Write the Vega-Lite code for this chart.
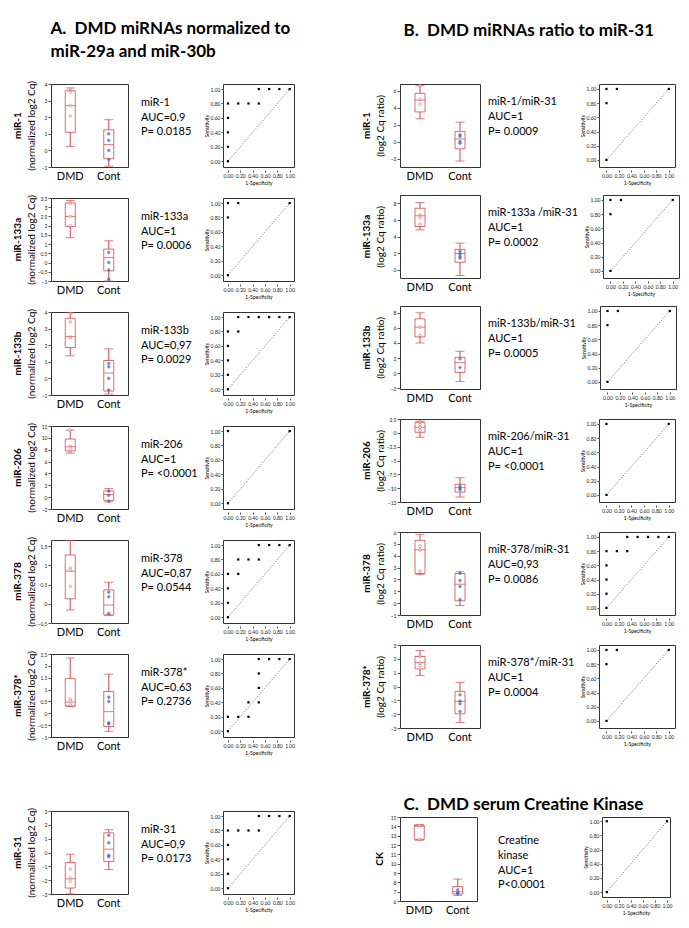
{
"$schema":"https://vega.github.io/schema/vega-lite/v6.json",
"padding":{"left":12,"top":20,"right":5,"bottom":5},
"background":"white",
"config":{
 "font":"Lato",
 "view":{"stroke":"#333","strokeWidth":1},
 "title":{"fontSize":10,"fontWeight":"bold","offset":3,"color":"#000"},
 "axis":{"labelFontSize":5,"titleFontSize":5,"titleFontWeight":"normal","tickSize":2,"labelPadding":1,"titlePadding":2,"domain":false,"grid":false,"labelColor":"#222","titleColor":"#000","tickColor":"#555","labelOverlap":false,"labelBound":false,"labelSeparation":0},
 "axisY":{"minExtent":12,"maxExtent":12}
},
"datasets":{
 "box":[
  {"id":"A1","g":"DMD","min":0.24,"q1":1.09,"med":2.7,"q3":3.59,"max":3.76},{"id":"A1","g":"Cont","min":-0.95,"q1":-0.5,"med":0.35,"q3":1.24,"max":1.85},
  {"id":"A2","g":"DMD","min":1.35,"q1":1.95,"med":2.5,"q3":3.23,"max":3.37},{"id":"A2","g":"Cont","min":-1,"q1":-0.45,"med":0.27,"q3":0.73,"max":1.18},
  {"id":"A3","g":"DMD","min":1.36,"q1":1.86,"med":2.52,"q3":3.62,"max":3.96},{"id":"A3","g":"Cont","min":-0.94,"q1":-0.76,"med":0.32,"q3":1.08,"max":1.78},
  {"id":"A4","g":"DMD","min":7.45,"q1":7.8,"med":8.5,"q3":9.8,"max":11.3},{"id":"A4","g":"Cont","min":-0.8,"q1":-0.55,"med":0.45,"q3":1.05,"max":1.45},
  {"id":"A5","g":"DMD","min":-0.16,"q1":0.13,"med":0.85,"q3":1.27,"max":1.65},{"id":"A5","g":"Cont","min":-0.3,"q1":-0.29,"med":-0.03,"q3":0.36,"max":0.56},
  {"id":"A6","g":"DMD","min":0.28,"q1":0.31,"med":0.47,"q3":1.47,"max":2.33},{"id":"A6","g":"Cont","min":-0.76,"q1":-0.56,"med":0.07,"q3":0.92,"max":1.65},
  {"id":"A7","g":"DMD","min":-3,"q1":-2.57,"med":-1.9,"q3":-0.72,"max":-0.12},{"id":"A7","g":"Cont","min":-1.23,"q1":-0.65,"med":0.24,"q3":1.42,"max":1.65},
  {"id":"B1","g":"DMD","min":2.7,"q1":3.5,"med":4.9,"q3":5.7,"max":6.6},{"id":"B1","g":"Cont","min":-2.3,"q1":-0.85,"med":0.3,"q3":1.2,"max":2.3},
  {"id":"B2","g":"DMD","min":4.8,"q1":5.2,"med":6.5,"q3":7.4,"max":8.1},{"id":"B2","g":"Cont","min":-0.7,"q1":0.9,"med":1.95,"q3":2.45,"max":3.2},
  {"id":"B3","g":"DMD","min":4.0,"q1":4.8,"med":6.1,"q3":7.2,"max":8.0},{"id":"B3","g":"Cont","min":-1.1,"q1":0.1,"med":1.4,"q3":2.1,"max":2.9},
  {"id":"B4","g":"DMD","min":-0.8,"q1":0.1,"med":1.0,"q3":1.9,"max":2.1},{"id":"B4","g":"Cont","min":-11.6,"q1":-10.7,"med":-9.9,"q3":-9.3,"max":-8.1},
  {"id":"B5","g":"DMD","min":2.4,"q1":2.5,"med":4.5,"q3":5.3,"max":5.8},{"id":"B5","g":"Cont","min":-0.2,"q1":0.2,"med":1.6,"q3":2.5,"max":2.65},
  {"id":"B6","g":"DMD","min":0.8,"q1":1.27,"med":1.73,"q3":2.17,"max":2.6},{"id":"B6","g":"Cont","min":-2.6,"q1":-1.97,"med":-1.08,"q3":-0.35,"max":0.3},
  {"id":"C1","g":"DMD","min":12.5,"q1":12.6,"med":14.0,"q3":14.1,"max":14.2},{"id":"C1","g":"Cont","min":6.6,"q1":6.75,"med":7.0,"q3":7.55,"max":8.35}
 ],
 "pts":[
  {"id":"A1","g":"DMD","v":3.7},{"id":"A1","g":"DMD","v":3.5},{"id":"A1","g":"DMD","v":2.7},{"id":"A1","g":"DMD","v":2.07},
  {"id":"A1","g":"Cont","v":1.0},{"id":"A1","g":"Cont","v":0.6},{"id":"A1","g":"Cont","v":0.0},{"id":"A1","g":"Cont","v":-0.55},
  {"id":"A2","g":"DMD","v":3.3},{"id":"A2","g":"DMD","v":3.2},{"id":"A2","g":"DMD","v":2.5},{"id":"A2","g":"DMD","v":2.0},
  {"id":"A2","g":"Cont","v":0.55},{"id":"A2","g":"Cont","v":0.0},{"id":"A2","g":"Cont","v":-0.4},{"id":"A2","g":"Cont","v":-0.9},
  {"id":"A3","g":"DMD","v":3.9},{"id":"A3","g":"DMD","v":3.4},{"id":"A3","g":"DMD","v":2.5},{"id":"A3","g":"DMD","v":2.45},
  {"id":"A3","g":"Cont","v":0.9},{"id":"A3","g":"Cont","v":0.7},{"id":"A3","g":"Cont","v":0.0},{"id":"A3","g":"Cont","v":-0.7},
  {"id":"A4","g":"DMD","v":11.3},{"id":"A4","g":"DMD","v":8.6},{"id":"A4","g":"DMD","v":8.3},{"id":"A4","g":"DMD","v":7.6},
  {"id":"A4","g":"Cont","v":1.0},{"id":"A4","g":"Cont","v":0.3},{"id":"A4","g":"Cont","v":-0.7},
  {"id":"A5","g":"DMD","v":0.93},{"id":"A5","g":"DMD","v":0.87},{"id":"A5","g":"DMD","v":0.45},
  {"id":"A5","g":"Cont","v":0.3},{"id":"A5","g":"Cont","v":0.18},{"id":"A5","g":"Cont","v":-0.25},
  {"id":"A6","g":"DMD","v":0.6},{"id":"A6","g":"DMD","v":0.5},{"id":"A6","g":"DMD","v":0.35},
  {"id":"A6","g":"Cont","v":0.68},{"id":"A6","g":"Cont","v":0.5},{"id":"A6","g":"Cont","v":-0.4},{"id":"A6","g":"Cont","v":-0.45},
  {"id":"A7","g":"DMD","v":-1.2},{"id":"A7","g":"DMD","v":-1.85},{"id":"A7","g":"DMD","v":-2.1},
  {"id":"A7","g":"Cont","v":1.25},{"id":"A7","g":"Cont","v":0.7},{"id":"A7","g":"Cont","v":-0.2},{"id":"A7","g":"Cont","v":-0.3},
  {"id":"B1","g":"DMD","v":6.6},{"id":"B1","g":"DMD","v":5.0},{"id":"B1","g":"DMD","v":4.4},
  {"id":"B1","g":"Cont","v":0.8},{"id":"B1","g":"Cont","v":0.6},{"id":"B1","g":"Cont","v":0.0},{"id":"B1","g":"Cont","v":-0.2},
  {"id":"B2","g":"DMD","v":6.6},{"id":"B2","g":"DMD","v":6.3},{"id":"B2","g":"DMD","v":5.5},
  {"id":"B2","g":"Cont","v":2.2},{"id":"B2","g":"Cont","v":1.9},{"id":"B2","g":"Cont","v":1.6},{"id":"B2","g":"Cont","v":1.4},
  {"id":"B3","g":"DMD","v":6.1},{"id":"B3","g":"DMD","v":5.0},
  {"id":"B3","g":"Cont","v":1.9},{"id":"B3","g":"Cont","v":0.75},
  {"id":"B4","g":"DMD","v":2.0},{"id":"B4","g":"DMD","v":1.5},{"id":"B4","g":"DMD","v":1.0},{"id":"B4","g":"DMD","v":0.5},
  {"id":"B4","g":"Cont","v":-9.6},{"id":"B4","g":"Cont","v":-10.0},{"id":"B4","g":"Cont","v":-10.3},
  {"id":"B5","g":"DMD","v":4.8},{"id":"B5","g":"DMD","v":4.5},{"id":"B5","g":"DMD","v":2.7},
  {"id":"B5","g":"Cont","v":2.5},{"id":"B5","g":"Cont","v":1.9},{"id":"B5","g":"Cont","v":1.4},{"id":"B5","g":"Cont","v":0.3},
  {"id":"B6","g":"DMD","v":2.2},{"id":"B6","g":"DMD","v":1.7},{"id":"B6","g":"DMD","v":1.5},
  {"id":"B6","g":"Cont","v":-0.6},{"id":"B6","g":"Cont","v":-1.05},{"id":"B6","g":"Cont","v":-1.25},{"id":"B6","g":"Cont","v":-1.8},
  {"id":"C1","g":"DMD","v":14.1},{"id":"C1","g":"DMD","v":12.6},
  {"id":"C1","g":"Cont","v":7.2},{"id":"C1","g":"Cont","v":6.9},{"id":"C1","g":"Cont","v":6.8}
 ],
 "roc":[
  {"id":"A1","fpr":0,"tpr":0},{"id":"A1","fpr":0,"tpr":0.2},{"id":"A1","fpr":0,"tpr":0.4},{"id":"A1","fpr":0,"tpr":0.6},{"id":"A1","fpr":0,"tpr":0.8},{"id":"A1","fpr":0.167,"tpr":0.8},{"id":"A1","fpr":0.333,"tpr":0.8},{"id":"A1","fpr":0.5,"tpr":0.8},{"id":"A1","fpr":0.5,"tpr":1},{"id":"A1","fpr":0.667,"tpr":1},{"id":"A1","fpr":0.833,"tpr":1},{"id":"A1","fpr":1,"tpr":1},
  {"id":"A2","fpr":0,"tpr":0},{"id":"A2","fpr":0,"tpr":0.8},{"id":"A2","fpr":0,"tpr":1},{"id":"A2","fpr":0.167,"tpr":1},{"id":"A2","fpr":1,"tpr":1},
  {"id":"A3","fpr":0,"tpr":0},{"id":"A3","fpr":0,"tpr":0.2},{"id":"A3","fpr":0,"tpr":0.4},{"id":"A3","fpr":0,"tpr":0.6},{"id":"A3","fpr":0,"tpr":0.8},{"id":"A3","fpr":0.167,"tpr":0.8},{"id":"A3","fpr":0.167,"tpr":1},{"id":"A3","fpr":0.333,"tpr":1},{"id":"A3","fpr":0.5,"tpr":1},{"id":"A3","fpr":0.667,"tpr":1},{"id":"A3","fpr":0.833,"tpr":1},{"id":"A3","fpr":1,"tpr":1},
  {"id":"A4","fpr":0,"tpr":0},{"id":"A4","fpr":0,"tpr":1},{"id":"A4","fpr":1,"tpr":1},
  {"id":"A5","fpr":0,"tpr":0},{"id":"A5","fpr":0,"tpr":0.2},{"id":"A5","fpr":0,"tpr":0.4},{"id":"A5","fpr":0,"tpr":0.6},{"id":"A5","fpr":0.167,"tpr":0.6},{"id":"A5","fpr":0.167,"tpr":0.8},{"id":"A5","fpr":0.333,"tpr":0.8},{"id":"A5","fpr":0.5,"tpr":0.8},{"id":"A5","fpr":0.5,"tpr":1},{"id":"A5","fpr":0.667,"tpr":1},{"id":"A5","fpr":0.833,"tpr":1},{"id":"A5","fpr":1,"tpr":1},
  {"id":"A6","fpr":0,"tpr":0},{"id":"A6","fpr":0,"tpr":0.2},{"id":"A6","fpr":0.167,"tpr":0.2},{"id":"A6","fpr":0.333,"tpr":0.2},{"id":"A6","fpr":0.333,"tpr":0.4},{"id":"A6","fpr":0.5,"tpr":0.4},{"id":"A6","fpr":0.5,"tpr":0.6},{"id":"A6","fpr":0.5,"tpr":0.8},{"id":"A6","fpr":0.5,"tpr":1},{"id":"A6","fpr":0.667,"tpr":1},{"id":"A6","fpr":0.833,"tpr":1},{"id":"A6","fpr":1,"tpr":1},
  {"id":"A7","fpr":0,"tpr":0},{"id":"A7","fpr":0,"tpr":0.2},{"id":"A7","fpr":0,"tpr":0.4},{"id":"A7","fpr":0,"tpr":0.6},{"id":"A7","fpr":0,"tpr":0.8},{"id":"A7","fpr":0.167,"tpr":0.8},{"id":"A7","fpr":0.333,"tpr":0.8},{"id":"A7","fpr":0.5,"tpr":0.8},{"id":"A7","fpr":0.5,"tpr":1},{"id":"A7","fpr":0.667,"tpr":1},{"id":"A7","fpr":0.833,"tpr":1},{"id":"A7","fpr":1,"tpr":1},
  {"id":"B1","fpr":0,"tpr":0},{"id":"B1","fpr":0,"tpr":0.8},{"id":"B1","fpr":0,"tpr":1},{"id":"B1","fpr":0.167,"tpr":1},{"id":"B1","fpr":1,"tpr":1},
  {"id":"B2","fpr":0,"tpr":0},{"id":"B2","fpr":0,"tpr":0.8},{"id":"B2","fpr":0,"tpr":1},{"id":"B2","fpr":0.167,"tpr":1},{"id":"B2","fpr":1,"tpr":1},
  {"id":"B3","fpr":0,"tpr":0},{"id":"B3","fpr":0,"tpr":0.8},{"id":"B3","fpr":0,"tpr":1},{"id":"B3","fpr":0.167,"tpr":1},{"id":"B3","fpr":1,"tpr":1},
  {"id":"B4","fpr":0,"tpr":0},{"id":"B4","fpr":0,"tpr":1},{"id":"B4","fpr":1,"tpr":1},
  {"id":"B5","fpr":0,"tpr":0},{"id":"B5","fpr":0,"tpr":0.2},{"id":"B5","fpr":0,"tpr":0.4},{"id":"B5","fpr":0,"tpr":0.6},{"id":"B5","fpr":0,"tpr":0.8},{"id":"B5","fpr":0.167,"tpr":0.8},{"id":"B5","fpr":0.333,"tpr":0.8},{"id":"B5","fpr":0.333,"tpr":1},{"id":"B5","fpr":0.5,"tpr":1},{"id":"B5","fpr":0.667,"tpr":1},{"id":"B5","fpr":0.833,"tpr":1},{"id":"B5","fpr":1,"tpr":1},
  {"id":"B6","fpr":0,"tpr":0},{"id":"B6","fpr":0,"tpr":0.8},{"id":"B6","fpr":0,"tpr":1},{"id":"B6","fpr":0.167,"tpr":1},{"id":"B6","fpr":1,"tpr":1},
  {"id":"C1","fpr":0,"tpr":0},{"id":"C1","fpr":0,"tpr":1},{"id":"C1","fpr":1,"tpr":1}
 ],
 "txt":[
  {"id":"A1","t":"miR-1\nAUC=0.9\nP= 0.0185"},
  {"id":"A2","t":"miR-133a\nAUC=1\nP= 0.0006"},
  {"id":"A3","t":"miR-133b\nAUC=0,97\nP= 0.0029"},
  {"id":"A4","t":"miR-206\nAUC=1\nP= <0.0001"},
  {"id":"A5","t":"miR-378\nAUC=0,87\nP= 0.0544"},
  {"id":"A6","t":"miR-378*\nAUC=0,63\nP= 0.2736"},
  {"id":"A7","t":"miR-31\nAUC=0,9\nP= 0.0173"},
  {"id":"B1","t":"miR-1/miR-31\nAUC=1\nP= 0.0009"},
  {"id":"B2","t":"miR-133a /miR-31\nAUC=1\nP= 0.0002"},
  {"id":"B3","t":"miR-133b/miR-31\nAUC=1\nP= 0.0005"},
  {"id":"B4","t":"miR-206/miR-31\nAUC=1\nP= <0.0001"},
  {"id":"B5","t":"miR-378/miR-31\nAUC=0,93\nP= 0.0086"},
  {"id":"B6","t":"miR-378*/miR-31\nAUC=1\nP= 0.0004"},
  {"id":"C1","t":"Creatine\nkinase\nAUC=1\nP<0.0001"}
 ],
 "diag":[{"d":0},{"d":1}]
},
"spacing":65,
"hconcat":[
 {"title":{"text":["A.\u00a0 DMD miRNAs normalized to","miR-29a and miR-30b"],"orient":"top","anchor":"start","dx":38,"fontSize":17,"lineHeight":23,"offset":19},
  "spacing":51,
  "vconcat":[
   {"spacing":8,"vconcat":[
    {"spacing":4,"hconcat":[
     {"width":77,"height":83,"title":{"text":"miR-1","orient":"left"},"data":{"name":"box"},"transform":[{"filter":"datum.id=='A1'"}],
      "encoding":{"x":{"field":"g","type":"nominal","sort":["DMD","Cont"],"scale":{"paddingInner":0,"paddingOuter":0},"axis":{"title":null,"labelAngle":0,"labelFontSize":11,"ticks":false,"labelPadding":3,"labelColor":"#000"}},
       "y":{"field":"min","type":"quantitative","scale":{"domain":[-1,4],"nice":false,"zero":false},"axis":{"values":[-1,0,1,2,3,4],"format":"~g","title":"(normalized log2 Cq)","titleFontSize":10,"labelFontSize":5,"tickSize":3,"titlePadding":3,"labelOverlap":false}}},
      "layer":[
       {"mark":{"type":"rule","color":"#d24a4a"},"encoding":{"y2":{"field":"max"}}},
       {"mark":{"type":"bar","fill":"#ffffff","stroke":"#d24a4a","strokeWidth":0.8,"width":10},"encoding":{"y":{"field":"q1","type":"quantitative"},"y2":{"field":"q3"}}},
       {"mark":{"type":"tick","color":"#d24a4a","size":9}},
       {"mark":{"type":"tick","color":"#d24a4a","size":9},"encoding":{"y":{"field":"max","type":"quantitative"}}},
       {"mark":{"type":"tick","color":"#d24a4a","size":10},"encoding":{"y":{"field":"med","type":"quantitative"}}},
       {"data":{"name":"pts"},"transform":[{"filter":"datum.id=='A1'"}],"mark":{"type":"point","size":7,"strokeWidth":0.7},"encoding":{"y":{"field":"v","type":"quantitative"},"color":{"field":"g","type":"nominal","scale":{"domain":["DMD","Cont"],"range":["#d24a4a","#3b5bc4"]},"legend":null},"fill":{"field":"g","type":"nominal","scale":{"domain":["DMD","Cont"],"range":["#ffffff","#3b5bc4"]},"legend":null}}}
      ]},
     {"width":66,"height":83,"view":{"stroke":null},"data":{"name":"txt"},"transform":[{"filter":"datum.id=='A1'"}],"mark":{"type":"text","align":"left","baseline":"middle","lineBreak":"\n","fontSize":11,"lineHeight":14.7,"dx":8},
      "encoding":{"text":{"field":"t"},"x":{"datum":0,"type":"quantitative","scale":{"domain":[0,1]},"axis":null},"y":{"datum":0.77,"type":"quantitative","scale":{"domain":[0,1]},"axis":null}}},
     {"width":71,"height":83,"layer":[
       {"data":{"name":"diag"},"mark":{"type":"line","color":"#444","strokeDash":[1.2,1.6],"strokeWidth":0.7},"encoding":{"x":{"field":"d","type":"quantitative","scale":{"domain":[-0.08,1.07],"nice":false,"zero":false},"axis":{"values":[0,0.2,0.4,0.6,0.8,1],"format":".2f","title":"1-Specificity","offset":3,"labelOverlap":false,"labelFlush":false}},"y":{"field":"d","type":"quantitative","scale":{"domain":[-0.08,1.07],"nice":false,"zero":false},"axis":{"values":[0,0.2,0.4,0.6,0.8,1],"format":".2f","title":"Sensitivity","labelOverlap":false}}}},
       {"data":{"name":"roc"},"transform":[{"filter":"datum.id=='A1'"}],"mark":{"type":"square","size":5,"color":"#000","opacity":1},"encoding":{"x":{"field":"fpr","type":"quantitative","axis":{"values":[0,0.2,0.4,0.6,0.8,1],"format":".2f","title":"1-Specificity","offset":3,"labelOverlap":false,"labelFlush":false}},"y":{"field":"tpr","type":"quantitative","axis":{"values":[0,0.2,0.4,0.6,0.8,1],"format":".2f","title":"Sensitivity","labelOverlap":false}}}}
     ]}
    ]},
    {"spacing":4,"hconcat":[
     {"width":77,"height":83,"title":{"text":"miR-133a","orient":"left"},"data":{"name":"box"},"transform":[{"filter":"datum.id=='A2'"}],
      "encoding":{"x":{"field":"g","type":"nominal","sort":["DMD","Cont"],"scale":{"paddingInner":0,"paddingOuter":0},"axis":{"title":null,"labelAngle":0,"labelFontSize":11,"ticks":false,"labelPadding":3,"labelColor":"#000"}},
       "y":{"field":"min","type":"quantitative","scale":{"domain":[-1,3.5],"nice":false,"zero":false},"axis":{"values":[-1,-0.5,0,0.5,1,1.5,2,2.5,3,3.5],"format":"~g","title":"(normalized log2 Cq)","titleFontSize":10,"labelFontSize":5,"tickSize":3,"titlePadding":3,"labelOverlap":false}}},
      "layer":[
       {"mark":{"type":"rule","color":"#d24a4a"},"encoding":{"y2":{"field":"max"}}},
       {"mark":{"type":"bar","fill":"#ffffff","stroke":"#d24a4a","strokeWidth":0.8,"width":10},"encoding":{"y":{"field":"q1","type":"quantitative"},"y2":{"field":"q3"}}},
       {"mark":{"type":"tick","color":"#d24a4a","size":9}},
       {"mark":{"type":"tick","color":"#d24a4a","size":9},"encoding":{"y":{"field":"max","type":"quantitative"}}},
       {"mark":{"type":"tick","color":"#d24a4a","size":10},"encoding":{"y":{"field":"med","type":"quantitative"}}},
       {"data":{"name":"pts"},"transform":[{"filter":"datum.id=='A2'"}],"mark":{"type":"point","size":7,"strokeWidth":0.7},"encoding":{"y":{"field":"v","type":"quantitative"},"color":{"field":"g","type":"nominal","scale":{"domain":["DMD","Cont"],"range":["#d24a4a","#3b5bc4"]},"legend":null},"fill":{"field":"g","type":"nominal","scale":{"domain":["DMD","Cont"],"range":["#ffffff","#3b5bc4"]},"legend":null}}}
      ]},
     {"width":66,"height":83,"view":{"stroke":null},"data":{"name":"txt"},"transform":[{"filter":"datum.id=='A2'"}],"mark":{"type":"text","align":"left","baseline":"middle","lineBreak":"\n","fontSize":11,"lineHeight":14.7,"dx":8},
      "encoding":{"text":{"field":"t"},"x":{"datum":0,"type":"quantitative","scale":{"domain":[0,1]},"axis":null},"y":{"datum":0.77,"type":"quantitative","scale":{"domain":[0,1]},"axis":null}}},
     {"width":71,"height":83,"layer":[
       {"data":{"name":"diag"},"mark":{"type":"line","color":"#444","strokeDash":[1.2,1.6],"strokeWidth":0.7},"encoding":{"x":{"field":"d","type":"quantitative","scale":{"domain":[-0.08,1.07],"nice":false,"zero":false},"axis":{"values":[0,0.2,0.4,0.6,0.8,1],"format":".2f","title":"1-Specificity","offset":3,"labelOverlap":false,"labelFlush":false}},"y":{"field":"d","type":"quantitative","scale":{"domain":[-0.08,1.07],"nice":false,"zero":false},"axis":{"values":[0,0.2,0.4,0.6,0.8,1],"format":".2f","title":"Sensitivity","labelOverlap":false}}}},
       {"data":{"name":"roc"},"transform":[{"filter":"datum.id=='A2'"}],"mark":{"type":"square","size":5,"color":"#000","opacity":1},"encoding":{"x":{"field":"fpr","type":"quantitative","axis":{"values":[0,0.2,0.4,0.6,0.8,1],"format":".2f","title":"1-Specificity","offset":3,"labelOverlap":false,"labelFlush":false}},"y":{"field":"tpr","type":"quantitative","axis":{"values":[0,0.2,0.4,0.6,0.8,1],"format":".2f","title":"Sensitivity","labelOverlap":false}}}}
     ]}
    ]},
    {"spacing":4,"hconcat":[
     {"width":77,"height":83,"title":{"text":"miR-133b","orient":"left"},"data":{"name":"box"},"transform":[{"filter":"datum.id=='A3'"}],
      "encoding":{"x":{"field":"g","type":"nominal","sort":["DMD","Cont"],"scale":{"paddingInner":0,"paddingOuter":0},"axis":{"title":null,"labelAngle":0,"labelFontSize":11,"ticks":false,"labelPadding":3,"labelColor":"#000"}},
       "y":{"field":"min","type":"quantitative","scale":{"domain":[-1,4],"nice":false,"zero":false},"axis":{"values":[-1,0,1,2,3,4],"format":"~g","title":"(normalized log2 Cq)","titleFontSize":10,"labelFontSize":5,"tickSize":3,"titlePadding":3,"labelOverlap":false}}},
      "layer":[
       {"mark":{"type":"rule","color":"#d24a4a"},"encoding":{"y2":{"field":"max"}}},
       {"mark":{"type":"bar","fill":"#ffffff","stroke":"#d24a4a","strokeWidth":0.8,"width":10},"encoding":{"y":{"field":"q1","type":"quantitative"},"y2":{"field":"q3"}}},
       {"mark":{"type":"tick","color":"#d24a4a","size":9}},
       {"mark":{"type":"tick","color":"#d24a4a","size":9},"encoding":{"y":{"field":"max","type":"quantitative"}}},
       {"mark":{"type":"tick","color":"#d24a4a","size":10},"encoding":{"y":{"field":"med","type":"quantitative"}}},
       {"data":{"name":"pts"},"transform":[{"filter":"datum.id=='A3'"}],"mark":{"type":"point","size":7,"strokeWidth":0.7},"encoding":{"y":{"field":"v","type":"quantitative"},"color":{"field":"g","type":"nominal","scale":{"domain":["DMD","Cont"],"range":["#d24a4a","#3b5bc4"]},"legend":null},"fill":{"field":"g","type":"nominal","scale":{"domain":["DMD","Cont"],"range":["#ffffff","#3b5bc4"]},"legend":null}}}
      ]},
     {"width":66,"height":83,"view":{"stroke":null},"data":{"name":"txt"},"transform":[{"filter":"datum.id=='A3'"}],"mark":{"type":"text","align":"left","baseline":"middle","lineBreak":"\n","fontSize":11,"lineHeight":14.7,"dx":8},
      "encoding":{"text":{"field":"t"},"x":{"datum":0,"type":"quantitative","scale":{"domain":[0,1]},"axis":null},"y":{"datum":0.77,"type":"quantitative","scale":{"domain":[0,1]},"axis":null}}},
     {"width":71,"height":83,"layer":[
       {"data":{"name":"diag"},"mark":{"type":"line","color":"#444","strokeDash":[1.2,1.6],"strokeWidth":0.7},"encoding":{"x":{"field":"d","type":"quantitative","scale":{"domain":[-0.08,1.07],"nice":false,"zero":false},"axis":{"values":[0,0.2,0.4,0.6,0.8,1],"format":".2f","title":"1-Specificity","offset":3,"labelOverlap":false,"labelFlush":false}},"y":{"field":"d","type":"quantitative","scale":{"domain":[-0.08,1.07],"nice":false,"zero":false},"axis":{"values":[0,0.2,0.4,0.6,0.8,1],"format":".2f","title":"Sensitivity","labelOverlap":false}}}},
       {"data":{"name":"roc"},"transform":[{"filter":"datum.id=='A3'"}],"mark":{"type":"square","size":5,"color":"#000","opacity":1},"encoding":{"x":{"field":"fpr","type":"quantitative","axis":{"values":[0,0.2,0.4,0.6,0.8,1],"format":".2f","title":"1-Specificity","offset":3,"labelOverlap":false,"labelFlush":false}},"y":{"field":"tpr","type":"quantitative","axis":{"values":[0,0.2,0.4,0.6,0.8,1],"format":".2f","title":"Sensitivity","labelOverlap":false}}}}
     ]}
    ]},
    {"spacing":4,"hconcat":[
     {"width":77,"height":83,"title":{"text":"miR-206","orient":"left"},"data":{"name":"box"},"transform":[{"filter":"datum.id=='A4'"}],
      "encoding":{"x":{"field":"g","type":"nominal","sort":["DMD","Cont"],"scale":{"paddingInner":0,"paddingOuter":0},"axis":{"title":null,"labelAngle":0,"labelFontSize":11,"ticks":false,"labelPadding":3,"labelColor":"#000"}},
       "y":{"field":"min","type":"quantitative","scale":{"domain":[-2,12],"nice":false,"zero":false},"axis":{"values":[-2,0,2,4,6,8,10,12],"format":"~g","title":"(normalized log2 Cq)","titleFontSize":10,"labelFontSize":5,"tickSize":3,"titlePadding":3,"labelOverlap":false}}},
      "layer":[
       {"mark":{"type":"rule","color":"#d24a4a"},"encoding":{"y2":{"field":"max"}}},
       {"mark":{"type":"bar","fill":"#ffffff","stroke":"#d24a4a","strokeWidth":0.8,"width":10},"encoding":{"y":{"field":"q1","type":"quantitative"},"y2":{"field":"q3"}}},
       {"mark":{"type":"tick","color":"#d24a4a","size":9}},
       {"mark":{"type":"tick","color":"#d24a4a","size":9},"encoding":{"y":{"field":"max","type":"quantitative"}}},
       {"mark":{"type":"tick","color":"#d24a4a","size":10},"encoding":{"y":{"field":"med","type":"quantitative"}}},
       {"data":{"name":"pts"},"transform":[{"filter":"datum.id=='A4'"}],"mark":{"type":"point","size":7,"strokeWidth":0.7},"encoding":{"y":{"field":"v","type":"quantitative"},"color":{"field":"g","type":"nominal","scale":{"domain":["DMD","Cont"],"range":["#d24a4a","#3b5bc4"]},"legend":null},"fill":{"field":"g","type":"nominal","scale":{"domain":["DMD","Cont"],"range":["#ffffff","#3b5bc4"]},"legend":null}}}
      ]},
     {"width":66,"height":83,"view":{"stroke":null},"data":{"name":"txt"},"transform":[{"filter":"datum.id=='A4'"}],"mark":{"type":"text","align":"left","baseline":"middle","lineBreak":"\n","fontSize":11,"lineHeight":14.7,"dx":8},
      "encoding":{"text":{"field":"t"},"x":{"datum":0,"type":"quantitative","scale":{"domain":[0,1]},"axis":null},"y":{"datum":0.77,"type":"quantitative","scale":{"domain":[0,1]},"axis":null}}},
     {"width":71,"height":83,"layer":[
       {"data":{"name":"diag"},"mark":{"type":"line","color":"#444","strokeDash":[1.2,1.6],"strokeWidth":0.7},"encoding":{"x":{"field":"d","type":"quantitative","scale":{"domain":[-0.08,1.07],"nice":false,"zero":false},"axis":{"values":[0,0.2,0.4,0.6,0.8,1],"format":".2f","title":"1-Specificity","offset":3,"labelOverlap":false,"labelFlush":false}},"y":{"field":"d","type":"quantitative","scale":{"domain":[-0.08,1.07],"nice":false,"zero":false},"axis":{"values":[0,0.2,0.4,0.6,0.8,1],"format":".2f","title":"Sensitivity","labelOverlap":false}}}},
       {"data":{"name":"roc"},"transform":[{"filter":"datum.id=='A4'"}],"mark":{"type":"square","size":5,"color":"#000","opacity":1},"encoding":{"x":{"field":"fpr","type":"quantitative","axis":{"values":[0,0.2,0.4,0.6,0.8,1],"format":".2f","title":"1-Specificity","offset":3,"labelOverlap":false,"labelFlush":false}},"y":{"field":"tpr","type":"quantitative","axis":{"values":[0,0.2,0.4,0.6,0.8,1],"format":".2f","title":"Sensitivity","labelOverlap":false}}}}
     ]}
    ]},
    {"spacing":4,"hconcat":[
     {"width":77,"height":83,"title":{"text":"miR-378","orient":"left"},"data":{"name":"box"},"transform":[{"filter":"datum.id=='A5'"}],
      "encoding":{"x":{"field":"g","type":"nominal","sort":["DMD","Cont"],"scale":{"paddingInner":0,"paddingOuter":0},"axis":{"title":null,"labelAngle":0,"labelFontSize":11,"ticks":false,"labelPadding":3,"labelColor":"#000"}},
       "y":{"field":"min","type":"quantitative","scale":{"domain":[-0.5,1.66],"nice":false,"zero":false},"axis":{"values":[-0.5,0,0.5,1,1.5],"format":"~g","title":"(normalized log2 Cq)","titleFontSize":10,"labelFontSize":5,"tickSize":3,"titlePadding":3,"labelOverlap":false}}},
      "layer":[
       {"mark":{"type":"rule","color":"#d24a4a"},"encoding":{"y2":{"field":"max"}}},
       {"mark":{"type":"bar","fill":"#ffffff","stroke":"#d24a4a","strokeWidth":0.8,"width":10},"encoding":{"y":{"field":"q1","type":"quantitative"},"y2":{"field":"q3"}}},
       {"mark":{"type":"tick","color":"#d24a4a","size":9}},
       {"mark":{"type":"tick","color":"#d24a4a","size":9},"encoding":{"y":{"field":"max","type":"quantitative"}}},
       {"mark":{"type":"tick","color":"#d24a4a","size":10},"encoding":{"y":{"field":"med","type":"quantitative"}}},
       {"data":{"name":"pts"},"transform":[{"filter":"datum.id=='A5'"}],"mark":{"type":"point","size":7,"strokeWidth":0.7},"encoding":{"y":{"field":"v","type":"quantitative"},"color":{"field":"g","type":"nominal","scale":{"domain":["DMD","Cont"],"range":["#d24a4a","#3b5bc4"]},"legend":null},"fill":{"field":"g","type":"nominal","scale":{"domain":["DMD","Cont"],"range":["#ffffff","#3b5bc4"]},"legend":null}}}
      ]},
     {"width":66,"height":83,"view":{"stroke":null},"data":{"name":"txt"},"transform":[{"filter":"datum.id=='A5'"}],"mark":{"type":"text","align":"left","baseline":"middle","lineBreak":"\n","fontSize":11,"lineHeight":14.7,"dx":8},
      "encoding":{"text":{"field":"t"},"x":{"datum":0,"type":"quantitative","scale":{"domain":[0,1]},"axis":null},"y":{"datum":0.77,"type":"quantitative","scale":{"domain":[0,1]},"axis":null}}},
     {"width":71,"height":83,"layer":[
       {"data":{"name":"diag"},"mark":{"type":"line","color":"#444","strokeDash":[1.2,1.6],"strokeWidth":0.7},"encoding":{"x":{"field":"d","type":"quantitative","scale":{"domain":[-0.08,1.07],"nice":false,"zero":false},"axis":{"values":[0,0.2,0.4,0.6,0.8,1],"format":".2f","title":"1-Specificity","offset":3,"labelOverlap":false,"labelFlush":false}},"y":{"field":"d","type":"quantitative","scale":{"domain":[-0.08,1.07],"nice":false,"zero":false},"axis":{"values":[0,0.2,0.4,0.6,0.8,1],"format":".2f","title":"Sensitivity","labelOverlap":false}}}},
       {"data":{"name":"roc"},"transform":[{"filter":"datum.id=='A5'"}],"mark":{"type":"square","size":5,"color":"#000","opacity":1},"encoding":{"x":{"field":"fpr","type":"quantitative","axis":{"values":[0,0.2,0.4,0.6,0.8,1],"format":".2f","title":"1-Specificity","offset":3,"labelOverlap":false,"labelFlush":false}},"y":{"field":"tpr","type":"quantitative","axis":{"values":[0,0.2,0.4,0.6,0.8,1],"format":".2f","title":"Sensitivity","labelOverlap":false}}}}
     ]}
    ]},
    {"spacing":4,"hconcat":[
     {"width":77,"height":83,"title":{"text":"miR-378*","orient":"left"},"data":{"name":"box"},"transform":[{"filter":"datum.id=='A6'"}],
      "encoding":{"x":{"field":"g","type":"nominal","sort":["DMD","Cont"],"scale":{"paddingInner":0,"paddingOuter":0},"axis":{"title":null,"labelAngle":0,"labelFontSize":11,"ticks":false,"labelPadding":3,"labelColor":"#000"}},
       "y":{"field":"min","type":"quantitative","scale":{"domain":[-1,2.5],"nice":false,"zero":false},"axis":{"values":[-1,-0.5,0,0.5,1,1.5,2,2.5],"format":"~g","title":"(normalized log2 Cq)","titleFontSize":10,"labelFontSize":5,"tickSize":3,"titlePadding":3,"labelOverlap":false}}},
      "layer":[
       {"mark":{"type":"rule","color":"#d24a4a"},"encoding":{"y2":{"field":"max"}}},
       {"mark":{"type":"bar","fill":"#ffffff","stroke":"#d24a4a","strokeWidth":0.8,"width":10},"encoding":{"y":{"field":"q1","type":"quantitative"},"y2":{"field":"q3"}}},
       {"mark":{"type":"tick","color":"#d24a4a","size":9}},
       {"mark":{"type":"tick","color":"#d24a4a","size":9},"encoding":{"y":{"field":"max","type":"quantitative"}}},
       {"mark":{"type":"tick","color":"#d24a4a","size":10},"encoding":{"y":{"field":"med","type":"quantitative"}}},
       {"data":{"name":"pts"},"transform":[{"filter":"datum.id=='A6'"}],"mark":{"type":"point","size":7,"strokeWidth":0.7},"encoding":{"y":{"field":"v","type":"quantitative"},"color":{"field":"g","type":"nominal","scale":{"domain":["DMD","Cont"],"range":["#d24a4a","#3b5bc4"]},"legend":null},"fill":{"field":"g","type":"nominal","scale":{"domain":["DMD","Cont"],"range":["#ffffff","#3b5bc4"]},"legend":null}}}
      ]},
     {"width":66,"height":83,"view":{"stroke":null},"data":{"name":"txt"},"transform":[{"filter":"datum.id=='A6'"}],"mark":{"type":"text","align":"left","baseline":"middle","lineBreak":"\n","fontSize":11,"lineHeight":14.7,"dx":8},
      "encoding":{"text":{"field":"t"},"x":{"datum":0,"type":"quantitative","scale":{"domain":[0,1]},"axis":null},"y":{"datum":0.77,"type":"quantitative","scale":{"domain":[0,1]},"axis":null}}},
     {"width":71,"height":83,"layer":[
       {"data":{"name":"diag"},"mark":{"type":"line","color":"#444","strokeDash":[1.2,1.6],"strokeWidth":0.7},"encoding":{"x":{"field":"d","type":"quantitative","scale":{"domain":[-0.08,1.07],"nice":false,"zero":false},"axis":{"values":[0,0.2,0.4,0.6,0.8,1],"format":".2f","title":"1-Specificity","offset":3,"labelOverlap":false,"labelFlush":false}},"y":{"field":"d","type":"quantitative","scale":{"domain":[-0.08,1.07],"nice":false,"zero":false},"axis":{"values":[0,0.2,0.4,0.6,0.8,1],"format":".2f","title":"Sensitivity","labelOverlap":false}}}},
       {"data":{"name":"roc"},"transform":[{"filter":"datum.id=='A6'"}],"mark":{"type":"square","size":5,"color":"#000","opacity":1},"encoding":{"x":{"field":"fpr","type":"quantitative","axis":{"values":[0,0.2,0.4,0.6,0.8,1],"format":".2f","title":"1-Specificity","offset":3,"labelOverlap":false,"labelFlush":false}},"y":{"field":"tpr","type":"quantitative","axis":{"values":[0,0.2,0.4,0.6,0.8,1],"format":".2f","title":"Sensitivity","labelOverlap":false}}}}
     ]}
    ]}
   ]},
   {"spacing":4,"hconcat":[
     {"width":77,"height":83,"title":{"text":"miR-31","orient":"left"},"data":{"name":"box"},"transform":[{"filter":"datum.id=='A7'"}],
      "encoding":{"x":{"field":"g","type":"nominal","sort":["DMD","Cont"],"scale":{"paddingInner":0,"paddingOuter":0},"axis":{"title":null,"labelAngle":0,"labelFontSize":11,"ticks":false,"labelPadding":3,"labelColor":"#000"}},
       "y":{"field":"min","type":"quantitative","scale":{"domain":[-3,3],"nice":false,"zero":false},"axis":{"values":[-3,-2,-1,0,1,2,3],"format":"~g","title":"(normalized log2 Cq)","titleFontSize":10,"labelFontSize":5,"tickSize":3,"titlePadding":3,"labelOverlap":false}}},
      "layer":[
       {"mark":{"type":"rule","color":"#d24a4a"},"encoding":{"y2":{"field":"max"}}},
       {"mark":{"type":"bar","fill":"#ffffff","stroke":"#d24a4a","strokeWidth":0.8,"width":10},"encoding":{"y":{"field":"q1","type":"quantitative"},"y2":{"field":"q3"}}},
       {"mark":{"type":"tick","color":"#d24a4a","size":9}},
       {"mark":{"type":"tick","color":"#d24a4a","size":9},"encoding":{"y":{"field":"max","type":"quantitative"}}},
       {"mark":{"type":"tick","color":"#d24a4a","size":10},"encoding":{"y":{"field":"med","type":"quantitative"}}},
       {"data":{"name":"pts"},"transform":[{"filter":"datum.id=='A7'"}],"mark":{"type":"point","size":7,"strokeWidth":0.7},"encoding":{"y":{"field":"v","type":"quantitative"},"color":{"field":"g","type":"nominal","scale":{"domain":["DMD","Cont"],"range":["#d24a4a","#3b5bc4"]},"legend":null},"fill":{"field":"g","type":"nominal","scale":{"domain":["DMD","Cont"],"range":["#ffffff","#3b5bc4"]},"legend":null}}}
      ]},
     {"width":66,"height":83,"view":{"stroke":null},"data":{"name":"txt"},"transform":[{"filter":"datum.id=='A7'"}],"mark":{"type":"text","align":"left","baseline":"middle","lineBreak":"\n","fontSize":11,"lineHeight":14.7,"dx":8},
      "encoding":{"text":{"field":"t"},"x":{"datum":0,"type":"quantitative","scale":{"domain":[0,1]},"axis":null},"y":{"datum":0.77,"type":"quantitative","scale":{"domain":[0,1]},"axis":null}}},
     {"width":71,"height":83,"layer":[
       {"data":{"name":"diag"},"mark":{"type":"line","color":"#444","strokeDash":[1.2,1.6],"strokeWidth":0.7},"encoding":{"x":{"field":"d","type":"quantitative","scale":{"domain":[-0.08,1.07],"nice":false,"zero":false},"axis":{"values":[0,0.2,0.4,0.6,0.8,1],"format":".2f","title":"1-Specificity","offset":3,"labelOverlap":false,"labelFlush":false}},"y":{"field":"d","type":"quantitative","scale":{"domain":[-0.08,1.07],"nice":false,"zero":false},"axis":{"values":[0,0.2,0.4,0.6,0.8,1],"format":".2f","title":"Sensitivity","labelOverlap":false}}}},
       {"data":{"name":"roc"},"transform":[{"filter":"datum.id=='A7'"}],"mark":{"type":"square","size":5,"color":"#000","opacity":1},"encoding":{"x":{"field":"fpr","type":"quantitative","axis":{"values":[0,0.2,0.4,0.6,0.8,1],"format":".2f","title":"1-Specificity","offset":3,"labelOverlap":false,"labelFlush":false}},"y":{"field":"tpr","type":"quantitative","axis":{"values":[0,0.2,0.4,0.6,0.8,1],"format":".2f","title":"Sensitivity","labelOverlap":false}}}}
     ]}
   ]}
  ]},
 {"spacing":48,"vconcat":[
  {"title":{"text":"B.\u00a0 DMD miRNAs ratio to miR-31","orient":"top","anchor":"start","dx":42,"fontSize":17,"offset":42},
   "spacing":8,"vconcat":[
    {"spacing":4,"hconcat":[
     {"width":80,"height":83,"title":{"text":"miR-1","orient":"left"},"data":{"name":"box"},"transform":[{"filter":"datum.id=='B1'"}],
      "encoding":{"x":{"field":"g","type":"nominal","sort":["DMD","Cont"],"scale":{"paddingInner":0,"paddingOuter":0},"axis":{"title":null,"labelAngle":0,"labelFontSize":11,"ticks":false,"labelPadding":3,"labelColor":"#000"}},
       "y":{"field":"min","type":"quantitative","scale":{"domain":[-3,6.8],"nice":false,"zero":false},"axis":{"values":[-2,0,2,4,6],"format":"~g","title":"(log2 Cq ratio)","titleFontSize":10,"labelFontSize":5,"tickSize":3,"titlePadding":3,"labelOverlap":false}}},
      "layer":[
       {"mark":{"type":"rule","color":"#d24a4a"},"encoding":{"y2":{"field":"max"}}},
       {"mark":{"type":"bar","fill":"#ffffff","stroke":"#d24a4a","strokeWidth":0.8,"width":10},"encoding":{"y":{"field":"q1","type":"quantitative"},"y2":{"field":"q3"}}},
       {"mark":{"type":"tick","color":"#d24a4a","size":9}},
       {"mark":{"type":"tick","color":"#d24a4a","size":9},"encoding":{"y":{"field":"max","type":"quantitative"}}},
       {"mark":{"type":"tick","color":"#d24a4a","size":10},"encoding":{"y":{"field":"med","type":"quantitative"}}},
       {"data":{"name":"pts"},"transform":[{"filter":"datum.id=='B1'"}],"mark":{"type":"point","size":7,"strokeWidth":0.7},"encoding":{"y":{"field":"v","type":"quantitative"},"color":{"field":"g","type":"nominal","scale":{"domain":["DMD","Cont"],"range":["#d24a4a","#3b5bc4"]},"legend":null},"fill":{"field":"g","type":"nominal","scale":{"domain":["DMD","Cont"],"range":["#ffffff","#3b5bc4"]},"legend":null}}}
      ]},
     {"width":90,"height":83,"view":{"stroke":null},"data":{"name":"txt"},"transform":[{"filter":"datum.id=='B1'"}],"mark":{"type":"text","align":"left","baseline":"middle","lineBreak":"\n","fontSize":11,"lineHeight":14.7,"dx":3},
      "encoding":{"text":{"field":"t"},"x":{"datum":0,"type":"quantitative","scale":{"domain":[0,1]},"axis":null},"y":{"datum":0.78,"type":"quantitative","scale":{"domain":[0,1]},"axis":null}}},
     {"width":76,"height":83,"layer":[
       {"data":{"name":"diag"},"mark":{"type":"line","color":"#444","strokeDash":[1.2,1.6],"strokeWidth":0.7},"encoding":{"x":{"field":"d","type":"quantitative","scale":{"domain":[-0.12,1.1],"nice":false,"zero":false},"axis":{"values":[0,0.2,0.4,0.6,0.8,1],"format":".2f","title":"1-Specificity","offset":3,"labelOverlap":false,"labelFlush":false}},"y":{"field":"d","type":"quantitative","scale":{"domain":[-0.1,1.07],"nice":false,"zero":false},"axis":{"values":[0,0.2,0.4,0.6,0.8,1],"format":".2f","title":"Sensitivity","labelOverlap":false}}}},
       {"data":{"name":"roc"},"transform":[{"filter":"datum.id=='B1'"}],"mark":{"type":"square","size":5,"color":"#000","opacity":1},"encoding":{"x":{"field":"fpr","type":"quantitative","axis":{"values":[0,0.2,0.4,0.6,0.8,1],"format":".2f","title":"1-Specificity","offset":3,"labelOverlap":false,"labelFlush":false}},"y":{"field":"tpr","type":"quantitative","axis":{"values":[0,0.2,0.4,0.6,0.8,1],"format":".2f","title":"Sensitivity","labelOverlap":false}}}}
     ]}
    ]},
    {"spacing":4,"hconcat":[
     {"width":80,"height":83,"title":{"text":"miR-133a","orient":"left"},"data":{"name":"box"},"transform":[{"filter":"datum.id=='B2'"}],
      "encoding":{"x":{"field":"g","type":"nominal","sort":["DMD","Cont"],"scale":{"paddingInner":0,"paddingOuter":0},"axis":{"title":null,"labelAngle":0,"labelFontSize":11,"ticks":false,"labelPadding":3,"labelColor":"#000"}},
       "y":{"field":"min","type":"quantitative","scale":{"domain":[-1,9],"nice":false,"zero":false},"axis":{"values":[0,2,4,6,8],"format":"~g","title":"(log2 Cq ratio)","titleFontSize":10,"labelFontSize":5,"tickSize":3,"titlePadding":3,"labelOverlap":false}}},
      "layer":[
       {"mark":{"type":"rule","color":"#d24a4a"},"encoding":{"y2":{"field":"max"}}},
       {"mark":{"type":"bar","fill":"#ffffff","stroke":"#d24a4a","strokeWidth":0.8,"width":10},"encoding":{"y":{"field":"q1","type":"quantitative"},"y2":{"field":"q3"}}},
       {"mark":{"type":"tick","color":"#d24a4a","size":9}},
       {"mark":{"type":"tick","color":"#d24a4a","size":9},"encoding":{"y":{"field":"max","type":"quantitative"}}},
       {"mark":{"type":"tick","color":"#d24a4a","size":10},"encoding":{"y":{"field":"med","type":"quantitative"}}},
       {"data":{"name":"pts"},"transform":[{"filter":"datum.id=='B2'"}],"mark":{"type":"point","size":7,"strokeWidth":0.7},"encoding":{"y":{"field":"v","type":"quantitative"},"color":{"field":"g","type":"nominal","scale":{"domain":["DMD","Cont"],"range":["#d24a4a","#3b5bc4"]},"legend":null},"fill":{"field":"g","type":"nominal","scale":{"domain":["DMD","Cont"],"range":["#ffffff","#3b5bc4"]},"legend":null}}}
      ]},
     {"width":90,"height":83,"view":{"stroke":null},"data":{"name":"txt"},"transform":[{"filter":"datum.id=='B2'"}],"mark":{"type":"text","align":"left","baseline":"middle","lineBreak":"\n","fontSize":11,"lineHeight":14.7,"dx":3},
      "encoding":{"text":{"field":"t"},"x":{"datum":0,"type":"quantitative","scale":{"domain":[0,1]},"axis":null},"y":{"datum":0.78,"type":"quantitative","scale":{"domain":[0,1]},"axis":null}}},
     {"width":76,"height":83,"layer":[
       {"data":{"name":"diag"},"mark":{"type":"line","color":"#444","strokeDash":[1.2,1.6],"strokeWidth":0.7},"encoding":{"x":{"field":"d","type":"quantitative","scale":{"domain":[-0.12,1.1],"nice":false,"zero":false},"axis":{"values":[0,0.2,0.4,0.6,0.8,1],"format":".2f","title":"1-Specificity","offset":3,"labelOverlap":false,"labelFlush":false}},"y":{"field":"d","type":"quantitative","scale":{"domain":[-0.1,1.07],"nice":false,"zero":false},"axis":{"values":[0,0.2,0.4,0.6,0.8,1],"format":".2f","title":"Sensitivity","labelOverlap":false}}}},
       {"data":{"name":"roc"},"transform":[{"filter":"datum.id=='B2'"}],"mark":{"type":"square","size":5,"color":"#000","opacity":1},"encoding":{"x":{"field":"fpr","type":"quantitative","axis":{"values":[0,0.2,0.4,0.6,0.8,1],"format":".2f","title":"1-Specificity","offset":3,"labelOverlap":false,"labelFlush":false}},"y":{"field":"tpr","type":"quantitative","axis":{"values":[0,0.2,0.4,0.6,0.8,1],"format":".2f","title":"Sensitivity","labelOverlap":false}}}}
     ]}
    ]},
    {"spacing":4,"hconcat":[
     {"width":80,"height":83,"title":{"text":"miR-133b","orient":"left"},"data":{"name":"box"},"transform":[{"filter":"datum.id=='B3'"}],
      "encoding":{"x":{"field":"g","type":"nominal","sort":["DMD","Cont"],"scale":{"paddingInner":0,"paddingOuter":0},"axis":{"title":null,"labelAngle":0,"labelFontSize":11,"ticks":false,"labelPadding":3,"labelColor":"#000"}},
       "y":{"field":"min","type":"quantitative","scale":{"domain":[-2.1,8.9],"nice":false,"zero":false},"axis":{"values":[-2,0,2,4,6,8],"format":"~g","title":"(log2 Cq ratio)","titleFontSize":10,"labelFontSize":5,"tickSize":3,"titlePadding":3,"labelOverlap":false}}},
      "layer":[
       {"mark":{"type":"rule","color":"#d24a4a"},"encoding":{"y2":{"field":"max"}}},
       {"mark":{"type":"bar","fill":"#ffffff","stroke":"#d24a4a","strokeWidth":0.8,"width":10},"encoding":{"y":{"field":"q1","type":"quantitative"},"y2":{"field":"q3"}}},
       {"mark":{"type":"tick","color":"#d24a4a","size":9}},
       {"mark":{"type":"tick","color":"#d24a4a","size":9},"encoding":{"y":{"field":"max","type":"quantitative"}}},
       {"mark":{"type":"tick","color":"#d24a4a","size":10},"encoding":{"y":{"field":"med","type":"quantitative"}}},
       {"data":{"name":"pts"},"transform":[{"filter":"datum.id=='B3'"}],"mark":{"type":"point","size":7,"strokeWidth":0.7},"encoding":{"y":{"field":"v","type":"quantitative"},"color":{"field":"g","type":"nominal","scale":{"domain":["DMD","Cont"],"range":["#d24a4a","#3b5bc4"]},"legend":null},"fill":{"field":"g","type":"nominal","scale":{"domain":["DMD","Cont"],"range":["#ffffff","#3b5bc4"]},"legend":null}}}
      ]},
     {"width":90,"height":83,"view":{"stroke":null},"data":{"name":"txt"},"transform":[{"filter":"datum.id=='B3'"}],"mark":{"type":"text","align":"left","baseline":"middle","lineBreak":"\n","fontSize":11,"lineHeight":14.7,"dx":3},
      "encoding":{"text":{"field":"t"},"x":{"datum":0,"type":"quantitative","scale":{"domain":[0,1]},"axis":null},"y":{"datum":0.78,"type":"quantitative","scale":{"domain":[0,1]},"axis":null}}},
     {"width":76,"height":83,"layer":[
       {"data":{"name":"diag"},"mark":{"type":"line","color":"#444","strokeDash":[1.2,1.6],"strokeWidth":0.7},"encoding":{"x":{"field":"d","type":"quantitative","scale":{"domain":[-0.12,1.1],"nice":false,"zero":false},"axis":{"values":[0,0.2,0.4,0.6,0.8,1],"format":".2f","title":"1-Specificity","offset":3,"labelOverlap":false,"labelFlush":false}},"y":{"field":"d","type":"quantitative","scale":{"domain":[-0.1,1.07],"nice":false,"zero":false},"axis":{"values":[0,0.2,0.4,0.6,0.8,1],"format":".2f","title":"Sensitivity","labelOverlap":false}}}},
       {"data":{"name":"roc"},"transform":[{"filter":"datum.id=='B3'"}],"mark":{"type":"square","size":5,"color":"#000","opacity":1},"encoding":{"x":{"field":"fpr","type":"quantitative","axis":{"values":[0,0.2,0.4,0.6,0.8,1],"format":".2f","title":"1-Specificity","offset":3,"labelOverlap":false,"labelFlush":false}},"y":{"field":"tpr","type":"quantitative","axis":{"values":[0,0.2,0.4,0.6,0.8,1],"format":".2f","title":"Sensitivity","labelOverlap":false}}}}
     ]}
    ]},
    {"spacing":4,"hconcat":[
     {"width":80,"height":83,"title":{"text":"miR-206","orient":"left"},"data":{"name":"box"},"transform":[{"filter":"datum.id=='B4'"}],
      "encoding":{"x":{"field":"g","type":"nominal","sort":["DMD","Cont"],"scale":{"paddingInner":0,"paddingOuter":0},"axis":{"title":null,"labelAngle":0,"labelFontSize":11,"ticks":false,"labelPadding":3,"labelColor":"#000"}},
       "y":{"field":"min","type":"quantitative","scale":{"domain":[-12.5,2.5],"nice":false,"zero":false},"axis":{"values":[-12.5,-10,-7.5,-5,-2.5,0,2.5],"format":"~g","title":"(log2 Cq ratio)","titleFontSize":10,"labelFontSize":5,"tickSize":3,"titlePadding":3,"labelOverlap":false}}},
      "layer":[
       {"mark":{"type":"rule","color":"#d24a4a"},"encoding":{"y2":{"field":"max"}}},
       {"mark":{"type":"bar","fill":"#ffffff","stroke":"#d24a4a","strokeWidth":0.8,"width":10},"encoding":{"y":{"field":"q1","type":"quantitative"},"y2":{"field":"q3"}}},
       {"mark":{"type":"tick","color":"#d24a4a","size":9}},
       {"mark":{"type":"tick","color":"#d24a4a","size":9},"encoding":{"y":{"field":"max","type":"quantitative"}}},
       {"mark":{"type":"tick","color":"#d24a4a","size":10},"encoding":{"y":{"field":"med","type":"quantitative"}}},
       {"data":{"name":"pts"},"transform":[{"filter":"datum.id=='B4'"}],"mark":{"type":"point","size":7,"strokeWidth":0.7},"encoding":{"y":{"field":"v","type":"quantitative"},"color":{"field":"g","type":"nominal","scale":{"domain":["DMD","Cont"],"range":["#d24a4a","#3b5bc4"]},"legend":null},"fill":{"field":"g","type":"nominal","scale":{"domain":["DMD","Cont"],"range":["#ffffff","#3b5bc4"]},"legend":null}}}
      ]},
     {"width":90,"height":83,"view":{"stroke":null},"data":{"name":"txt"},"transform":[{"filter":"datum.id=='B4'"}],"mark":{"type":"text","align":"left","baseline":"middle","lineBreak":"\n","fontSize":11,"lineHeight":14.7,"dx":3},
      "encoding":{"text":{"field":"t"},"x":{"datum":0,"type":"quantitative","scale":{"domain":[0,1]},"axis":null},"y":{"datum":0.78,"type":"quantitative","scale":{"domain":[0,1]},"axis":null}}},
     {"width":76,"height":83,"layer":[
       {"data":{"name":"diag"},"mark":{"type":"line","color":"#444","strokeDash":[1.2,1.6],"strokeWidth":0.7},"encoding":{"x":{"field":"d","type":"quantitative","scale":{"domain":[-0.12,1.1],"nice":false,"zero":false},"axis":{"values":[0,0.2,0.4,0.6,0.8,1],"format":".2f","title":"1-Specificity","offset":3,"labelOverlap":false,"labelFlush":false}},"y":{"field":"d","type":"quantitative","scale":{"domain":[-0.1,1.07],"nice":false,"zero":false},"axis":{"values":[0,0.2,0.4,0.6,0.8,1],"format":".2f","title":"Sensitivity","labelOverlap":false}}}},
       {"data":{"name":"roc"},"transform":[{"filter":"datum.id=='B4'"}],"mark":{"type":"square","size":5,"color":"#000","opacity":1},"encoding":{"x":{"field":"fpr","type":"quantitative","axis":{"values":[0,0.2,0.4,0.6,0.8,1],"format":".2f","title":"1-Specificity","offset":3,"labelOverlap":false,"labelFlush":false}},"y":{"field":"tpr","type":"quantitative","axis":{"values":[0,0.2,0.4,0.6,0.8,1],"format":".2f","title":"Sensitivity","labelOverlap":false}}}}
     ]}
    ]},
    {"spacing":4,"hconcat":[
     {"width":80,"height":83,"title":{"text":"miR-378","orient":"left"},"data":{"name":"box"},"transform":[{"filter":"datum.id=='B5'"}],
      "encoding":{"x":{"field":"g","type":"nominal","sort":["DMD","Cont"],"scale":{"paddingInner":0,"paddingOuter":0},"axis":{"title":null,"labelAngle":0,"labelFontSize":11,"ticks":false,"labelPadding":3,"labelColor":"#000"}},
       "y":{"field":"min","type":"quantitative","scale":{"domain":[-1,6],"nice":false,"zero":false},"axis":{"values":[-1,0,1,2,3,4,5,6],"format":"~g","title":"(log2 Cq ratio)","titleFontSize":10,"labelFontSize":5,"tickSize":3,"titlePadding":3,"labelOverlap":false}}},
      "layer":[
       {"mark":{"type":"rule","color":"#d24a4a"},"encoding":{"y2":{"field":"max"}}},
       {"mark":{"type":"bar","fill":"#ffffff","stroke":"#d24a4a","strokeWidth":0.8,"width":10},"encoding":{"y":{"field":"q1","type":"quantitative"},"y2":{"field":"q3"}}},
       {"mark":{"type":"tick","color":"#d24a4a","size":9}},
       {"mark":{"type":"tick","color":"#d24a4a","size":9},"encoding":{"y":{"field":"max","type":"quantitative"}}},
       {"mark":{"type":"tick","color":"#d24a4a","size":10},"encoding":{"y":{"field":"med","type":"quantitative"}}},
       {"data":{"name":"pts"},"transform":[{"filter":"datum.id=='B5'"}],"mark":{"type":"point","size":7,"strokeWidth":0.7},"encoding":{"y":{"field":"v","type":"quantitative"},"color":{"field":"g","type":"nominal","scale":{"domain":["DMD","Cont"],"range":["#d24a4a","#3b5bc4"]},"legend":null},"fill":{"field":"g","type":"nominal","scale":{"domain":["DMD","Cont"],"range":["#ffffff","#3b5bc4"]},"legend":null}}}
      ]},
     {"width":90,"height":83,"view":{"stroke":null},"data":{"name":"txt"},"transform":[{"filter":"datum.id=='B5'"}],"mark":{"type":"text","align":"left","baseline":"middle","lineBreak":"\n","fontSize":11,"lineHeight":14.7,"dx":3},
      "encoding":{"text":{"field":"t"},"x":{"datum":0,"type":"quantitative","scale":{"domain":[0,1]},"axis":null},"y":{"datum":0.78,"type":"quantitative","scale":{"domain":[0,1]},"axis":null}}},
     {"width":76,"height":83,"layer":[
       {"data":{"name":"diag"},"mark":{"type":"line","color":"#444","strokeDash":[1.2,1.6],"strokeWidth":0.7},"encoding":{"x":{"field":"d","type":"quantitative","scale":{"domain":[-0.12,1.1],"nice":false,"zero":false},"axis":{"values":[0,0.2,0.4,0.6,0.8,1],"format":".2f","title":"1-Specificity","offset":3,"labelOverlap":false,"labelFlush":false}},"y":{"field":"d","type":"quantitative","scale":{"domain":[-0.1,1.07],"nice":false,"zero":false},"axis":{"values":[0,0.2,0.4,0.6,0.8,1],"format":".2f","title":"Sensitivity","labelOverlap":false}}}},
       {"data":{"name":"roc"},"transform":[{"filter":"datum.id=='B5'"}],"mark":{"type":"square","size":5,"color":"#000","opacity":1},"encoding":{"x":{"field":"fpr","type":"quantitative","axis":{"values":[0,0.2,0.4,0.6,0.8,1],"format":".2f","title":"1-Specificity","offset":3,"labelOverlap":false,"labelFlush":false}},"y":{"field":"tpr","type":"quantitative","axis":{"values":[0,0.2,0.4,0.6,0.8,1],"format":".2f","title":"Sensitivity","labelOverlap":false}}}}
     ]}
    ]},
    {"spacing":4,"hconcat":[
     {"width":80,"height":83,"title":{"text":"miR-378*","orient":"left"},"data":{"name":"box"},"transform":[{"filter":"datum.id=='B6'"}],
      "encoding":{"x":{"field":"g","type":"nominal","sort":["DMD","Cont"],"scale":{"paddingInner":0,"paddingOuter":0},"axis":{"title":null,"labelAngle":0,"labelFontSize":11,"ticks":false,"labelPadding":3,"labelColor":"#000"}},
       "y":{"field":"min","type":"quantitative","scale":{"domain":[-3,3],"nice":false,"zero":false},"axis":{"values":[-3,-2,-1,0,1,2,3],"format":"~g","title":"(log2 Cq ratio)","titleFontSize":10,"labelFontSize":5,"tickSize":3,"titlePadding":3,"labelOverlap":false}}},
      "layer":[
       {"mark":{"type":"rule","color":"#d24a4a"},"encoding":{"y2":{"field":"max"}}},
       {"mark":{"type":"bar","fill":"#ffffff","stroke":"#d24a4a","strokeWidth":0.8,"width":10},"encoding":{"y":{"field":"q1","type":"quantitative"},"y2":{"field":"q3"}}},
       {"mark":{"type":"tick","color":"#d24a4a","size":9}},
       {"mark":{"type":"tick","color":"#d24a4a","size":9},"encoding":{"y":{"field":"max","type":"quantitative"}}},
       {"mark":{"type":"tick","color":"#d24a4a","size":10},"encoding":{"y":{"field":"med","type":"quantitative"}}},
       {"data":{"name":"pts"},"transform":[{"filter":"datum.id=='B6'"}],"mark":{"type":"point","size":7,"strokeWidth":0.7},"encoding":{"y":{"field":"v","type":"quantitative"},"color":{"field":"g","type":"nominal","scale":{"domain":["DMD","Cont"],"range":["#d24a4a","#3b5bc4"]},"legend":null},"fill":{"field":"g","type":"nominal","scale":{"domain":["DMD","Cont"],"range":["#ffffff","#3b5bc4"]},"legend":null}}}
      ]},
     {"width":90,"height":83,"view":{"stroke":null},"data":{"name":"txt"},"transform":[{"filter":"datum.id=='B6'"}],"mark":{"type":"text","align":"left","baseline":"middle","lineBreak":"\n","fontSize":11,"lineHeight":14.7,"dx":3},
      "encoding":{"text":{"field":"t"},"x":{"datum":0,"type":"quantitative","scale":{"domain":[0,1]},"axis":null},"y":{"datum":0.78,"type":"quantitative","scale":{"domain":[0,1]},"axis":null}}},
     {"width":76,"height":83,"layer":[
       {"data":{"name":"diag"},"mark":{"type":"line","color":"#444","strokeDash":[1.2,1.6],"strokeWidth":0.7},"encoding":{"x":{"field":"d","type":"quantitative","scale":{"domain":[-0.12,1.1],"nice":false,"zero":false},"axis":{"values":[0,0.2,0.4,0.6,0.8,1],"format":".2f","title":"1-Specificity","offset":3,"labelOverlap":false,"labelFlush":false}},"y":{"field":"d","type":"quantitative","scale":{"domain":[-0.1,1.07],"nice":false,"zero":false},"axis":{"values":[0,0.2,0.4,0.6,0.8,1],"format":".2f","title":"Sensitivity","labelOverlap":false}}}},
       {"data":{"name":"roc"},"transform":[{"filter":"datum.id=='B6'"}],"mark":{"type":"square","size":5,"color":"#000","opacity":1},"encoding":{"x":{"field":"fpr","type":"quantitative","axis":{"values":[0,0.2,0.4,0.6,0.8,1],"format":".2f","title":"1-Specificity","offset":3,"labelOverlap":false,"labelFlush":false}},"y":{"field":"tpr","type":"quantitative","axis":{"values":[0,0.2,0.4,0.6,0.8,1],"format":".2f","title":"Sensitivity","labelOverlap":false}}}}
     ]}
    ]}
   ]},
  {"title":{"text":"C.\u00a0 DMD serum Creatine Kinase","orient":"top","anchor":"middle","fontSize":17,"offset":1},
   "spacing":4,"hconcat":[
     {"width":77,"height":84,"title":{"text":"CK","orient":"left"},"data":{"name":"box"},"transform":[{"filter":"datum.id=='C1'"}],
      "encoding":{"x":{"field":"g","type":"nominal","sort":["DMD","Cont"],"scale":{"paddingInner":0,"paddingOuter":0},"axis":{"title":null,"labelAngle":0,"labelFontSize":11,"ticks":false,"labelPadding":3,"labelColor":"#000"}},
       "y":{"field":"min","type":"quantitative","scale":{"domain":[6,15],"nice":false,"zero":false},"axis":{"values":[6,7,8,9,10,11,12,13,14,15],"format":"~g","title":null,"labelFontSize":5,"tickSize":3,"labelOverlap":false}}},
      "layer":[
       {"mark":{"type":"rule","color":"#d24a4a"},"encoding":{"y2":{"field":"max"}}},
       {"mark":{"type":"bar","fill":"#ffffff","stroke":"#d24a4a","strokeWidth":0.8,"width":10},"encoding":{"y":{"field":"q1","type":"quantitative"},"y2":{"field":"q3"}}},
       {"mark":{"type":"tick","color":"#d24a4a","size":9}},
       {"mark":{"type":"tick","color":"#d24a4a","size":9},"encoding":{"y":{"field":"max","type":"quantitative"}}},
       {"mark":{"type":"tick","color":"#d24a4a","size":10},"encoding":{"y":{"field":"med","type":"quantitative"}}},
       {"data":{"name":"pts"},"transform":[{"filter":"datum.id=='C1'"}],"mark":{"type":"point","size":7,"strokeWidth":0.7},"encoding":{"y":{"field":"v","type":"quantitative"},"color":{"field":"g","type":"nominal","scale":{"domain":["DMD","Cont"],"range":["#d24a4a","#3b5bc4"]},"legend":null},"fill":{"field":"g","type":"nominal","scale":{"domain":["DMD","Cont"],"range":["#ffffff","#3b5bc4"]},"legend":null}}}
      ]},
     {"width":96,"height":84,"view":{"stroke":null},"data":{"name":"txt"},"transform":[{"filter":"datum.id=='C1'"}],"mark":{"type":"text","align":"left","baseline":"middle","lineBreak":"\n","fontSize":11,"lineHeight":14.7,"dx":16},
      "encoding":{"text":{"field":"t"},"x":{"datum":0,"type":"quantitative","scale":{"domain":[0,1]},"axis":null},"y":{"datum":0.71,"type":"quantitative","scale":{"domain":[0,1]},"axis":null}}},
     {"width":68,"height":80,"layer":[
       {"data":{"name":"diag"},"mark":{"type":"line","color":"#444","strokeDash":[1.2,1.6],"strokeWidth":0.7},"encoding":{"x":{"field":"d","type":"quantitative","scale":{"domain":[-0.08,1.05],"nice":false,"zero":false},"axis":{"values":[0,0.2,0.4,0.6,0.8,1],"format":".2f","title":"1-Specificity","offset":3,"labelOverlap":false,"labelFlush":false}},"y":{"field":"d","type":"quantitative","scale":{"domain":[-0.07,1.06],"nice":false,"zero":false},"axis":{"values":[0,0.2,0.4,0.6,0.8,1],"format":".2f","title":"Sensitivity","labelOverlap":false}}}},
       {"data":{"name":"roc"},"transform":[{"filter":"datum.id=='C1'"}],"mark":{"type":"square","size":5,"color":"#000","opacity":1},"encoding":{"x":{"field":"fpr","type":"quantitative","axis":{"values":[0,0.2,0.4,0.6,0.8,1],"format":".2f","title":"1-Specificity","offset":3,"labelOverlap":false,"labelFlush":false}},"y":{"field":"tpr","type":"quantitative","axis":{"values":[0,0.2,0.4,0.6,0.8,1],"format":".2f","title":"Sensitivity","labelOverlap":false}}}}
     ]}
   ]}
 ]}
]
}
